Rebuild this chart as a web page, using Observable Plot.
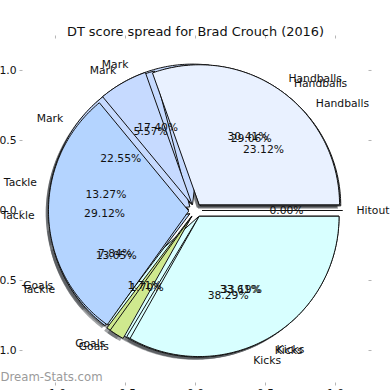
<!DOCTYPE html>
<html><head><meta charset="utf-8">
<script src="https://cdn.jsdelivr.net/npm/d3@7"></script>
<script src="https://cdn.jsdelivr.net/npm/@observablehq/plot@0.6"></script>
<style>body{margin:0;background:#fff;overflow:hidden;} #chart svg{display:block;}</style>
</head><body><div id="chart"></div>
<script>
const title = "DT score spread for Brad Crouch (2016)";
const watermark = "Dream-Stats.com";
const categories = ["Handballs", "Mark", "Tackle", "Goals", "Kicks", "Hitout"];
const colors = ["#e9f1ff", "#c6daff", "#b4d4ff", "#cfe98e", "#d8ffff", "#f4f4f4"];
// three overlaid pies (percent of DT score), bottom to top; null = category absent
const pieA = [23.12, 17.40, 13.27, 7.84, 38.29, null];
const pieB = [29.06, 22.55, 13.05, 1.71, 33.61, null];
const pieC = [30.41, 5.57, 29.12, 1.70, 33.19, 0.00];
const xTicks = [-1, -0.5, 0, 0.5, 1];
const yTicks = [-1, -0.5, 0, 0.5, 1];

const explode = 0.05, labelDist = 1.1, pctDist = 0.6, shadowOff = 0.02;
const pies = [pieA, pieB, pieC];

const wedgePts = [], shadowPts = [], labels = [];
pies.forEach((vals, p) => {
  const total = d3.sum(vals);
  let cum = 0;
  vals.forEach((v, i) => {
    if (v == null) return;
    const t1 = cum / total * 2 * Math.PI;
    cum += v;
    const t2 = cum / total * 2 * Math.PI;
    const tm = (t1 + t2) / 2;
    const cx = explode * Math.cos(tm), cy = explode * Math.sin(tm);
    const key = p + "-" + i;
    const n = Math.max(1, Math.ceil((t2 - t1) / (Math.PI / 180)));
    const pts = [[cx, cy]];
    for (let k = 0; k <= n; k++) {
      const t = t1 + (t2 - t1) * k / n;
      pts.push([cx + Math.cos(t), cy + Math.sin(t)]);
    }
    pts.forEach(([x, y]) => {
      wedgePts.push({key, cat: categories[i], x, y});
      shadowPts.push({key, x: x - shadowOff, y: y - shadowOff});
    });
    labels.push({
      cat: categories[i], pct: v.toFixed(2) + "%",
      lx: cx + labelDist * Math.cos(tm), ly: cy + labelDist * Math.sin(tm),
      px: cx + pctDist * Math.cos(tm), py: cy + pctDist * Math.sin(tm)
    });
  });
});

const fmt = d => (d < 0 ? "-" : "") + Math.abs(d).toFixed(1);
const chart = Plot.plot({
  width: 390, height: 390,
  marginLeft: 22.5, marginRight: 22.5, marginTop: 37.5, marginBottom: 7.5,
  x: {domain: [-1.232, 1.232], axis: null},
  y: {domain: [-1.232, 1.232], axis: null},
  color: {domain: categories, range: colors},
  style: {fontFamily: "DejaVu Sans", fontSize: "10.75px", background: "#fff", color: "#111"},
  marks: [
    Plot.axisX(xTicks, {anchor: "top", tickSize: 3, tickFormat: () => "", stroke: "#b5b5b5", label: null}),
    Plot.axisX(xTicks, {anchor: "bottom", tickSize: 3, tickPadding: 3.5, tickFormat: fmt, stroke: "#b5b5b5", fill: "#111", label: null}),
    Plot.axisY(yTicks, {anchor: "left", tickSize: 3, tickPadding: 3.5, tickFormat: fmt, stroke: "#b5b5b5", fill: "#111", label: null}),
    Plot.axisY(yTicks, {anchor: "right", tickSize: 3, tickFormat: () => "", stroke: "#b5b5b5", label: null}),
    Plot.line(shadowPts, {x: "x", y: "y", z: "key", curve: "linear-closed", fill: "#46494d", fillOpacity: 0.5, stroke: "none"}),
    Plot.line(wedgePts, {x: "x", y: "y", z: "key", curve: "linear-closed", fill: "cat", stroke: "#111", strokeWidth: 1, strokeLinejoin: "miter"}),
    Plot.text(labels.filter(d => d.lx > 0), {x: "lx", y: "ly", text: "cat", textAnchor: "start", fill: "#111"}),
    Plot.text(labels.filter(d => d.lx <= 0), {x: "lx", y: "ly", text: "cat", textAnchor: "end", fill: "#111"}),
    Plot.text(labels, {x: "px", y: "py", text: "pct", fill: "#111"}),
    Plot.text([title], {text: d => d, frameAnchor: "top", dy: -11.5, fontSize: 12.9, fill: "#111"}),
    Plot.text([watermark], {text: d => d, frameAnchor: "bottom-left", dx: -22.5, dy: -2.5, textAnchor: "start", fill: "#9a9a9a", fontSize: 11.7})
  ]
});
document.getElementById("chart").appendChild(chart);
</script>
</body></html>
